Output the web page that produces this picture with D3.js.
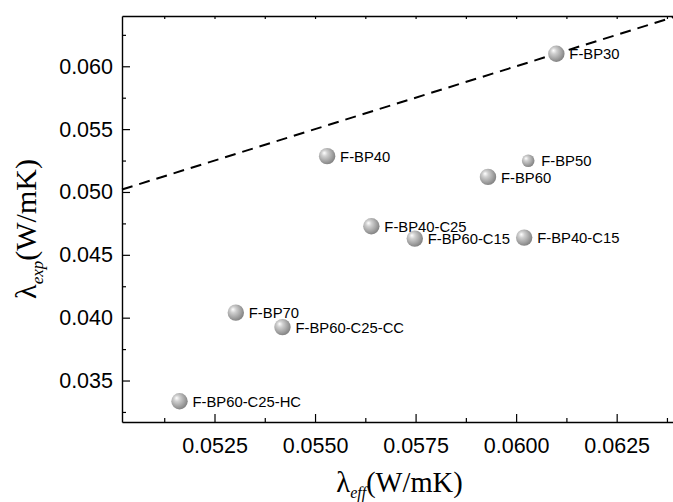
<!DOCTYPE html>
<html>
<head>
<meta charset="utf-8">
<script src="https://cdn.jsdelivr.net/npm/d3@7"></script>
<style>
  body { margin: 0; background: #fff; }
  svg { display: block; }
  .tick text { font-family: "Liberation Sans", Arial, sans-serif; fill: #000; }
  .pt-label { font-family: "Liberation Sans", Arial, sans-serif; font-size: 14.8px; fill: #000; }
  .title { font-family: "Liberation Serif", "Times New Roman", serif; fill: #000; }
</style>
</head>
<body>
<div id="chart"></div>
<script>
const samples = ["F-BP30", "F-BP40", "F-BP50", "F-BP60", "F-BP40-C25", "F-BP60-C15",
  "F-BP40-C15", "F-BP70", "F-BP60-C25-CC", "F-BP60-C25-HC"];
const lambdaEff = [0.0610, 0.0553, 0.0603, 0.0593, 0.0564, 0.05748,
  0.0602, 0.05303, 0.05419, 0.05163];
const lambdaExp = [0.0610, 0.05285, 0.05248, 0.0512, 0.04727, 0.04629,
  0.04637, 0.0404, 0.03925, 0.03335];

const xMajor = [0.0525, 0.0550, 0.0575, 0.0600, 0.0625];
const xMinor = [0.05125, 0.05375, 0.05625, 0.05875, 0.06125, 0.06375];
const yMajor = [0.035, 0.040, 0.045, 0.050, 0.055, 0.060];
const yMinor = [0.0325, 0.0375, 0.0425, 0.0475, 0.0525, 0.0575, 0.0625];
const parity = [0.0502, 0.064];

// the one marker drawn smaller in the original
const smallMarkers = ["F-BP50"];

const width = 673, height = 502;
const margin = { top: 16, right: -4, bottom: 80, left: 122 };

const x = d3.scaleLinear()
  .domain([0.0502, 0.064])
  .range([margin.left, width - margin.right]);
const y = d3.scaleLinear()
  .domain([0.0317, 0.064])
  .range([height - margin.bottom, margin.top]);

const svg = d3.select("#chart").append("svg")
  .attr("width", width)
  .attr("height", height);

const defs = svg.append("defs");
const grad = defs.append("radialGradient")
  .attr("id", "ball")
  .attr("cx", "40%").attr("cy", "40%").attr("r", "60%")
  .attr("fx", "32%").attr("fy", "30%");
grad.selectAll("stop")
  .data([[0, "#ffffff"], [0.3, "#d0d0d0"], [0.7, "#a6a6a6"], [1, "#858585"]])
  .join("stop")
  .attr("offset", d => d[0])
  .attr("stop-color", d => d[1]);

// axes
const bottom = height - margin.bottom;
svg.append("g")
  .attr("transform", `translate(0,${bottom})`)
  .call(d3.axisBottom(x).tickValues(xMajor).tickFormat(d3.format(".4f"))
    .tickSizeInner(-8).tickSizeOuter(0).tickPadding(16))
  .call(g => g.selectAll("text").attr("font-size", 21.5));
svg.append("g")
  .attr("transform", `translate(0,${bottom})`)
  .call(d3.axisBottom(x).tickValues(xMinor).tickFormat("")
    .tickSizeInner(-4).tickSizeOuter(0))
  .call(g => g.select(".domain").remove());

svg.append("g")
  .attr("transform", `translate(${margin.left},0)`)
  .call(d3.axisLeft(y).tickValues(yMajor).tickFormat(d3.format(".3f"))
    .tickSizeInner(-8).tickSizeOuter(0).tickPadding(9))
  .call(g => g.selectAll("text").attr("font-size", 21.5));
svg.append("g")
  .attr("transform", `translate(${margin.left},0)`)
  .call(d3.axisLeft(y).tickValues(yMinor).tickFormat("")
    .tickSizeInner(-4).tickSizeOuter(0))
  .call(g => g.select(".domain").remove());

svg.append("g")
  .attr("transform", `translate(0,${margin.top})`)
  .call(d3.axisTop(x).tickValues(xMajor.concat(xMinor)).tickFormat("")
    .tickSizeInner(-3).tickSizeOuter(0));

svg.selectAll(".domain").attr("stroke-width", 1.4);
svg.selectAll(".tick line").attr("stroke-width", 1.2);

// parity line
svg.append("line")
  .attr("x1", x(parity[0])).attr("y1", y(parity[0]))
  .attr("x2", x(parity[1])).attr("y2", y(parity[1]))
  .attr("stroke", "#000")
  .attr("stroke-width", 2)
  .attr("stroke-dasharray", "11,7");

// points
const pts = svg.append("g").selectAll("g")
  .data(samples)
  .join("g")
  .attr("transform", (d, i) => `translate(${x(lambdaEff[i])},${y(lambdaExp[i])})`);
pts.append("circle")
  .attr("r", d => smallMarkers.includes(d) ? 6.3 : 8.2)
  .attr("fill", "url(#ball)");
pts.append("text")
  .attr("class", "pt-label")
  .attr("x", 13)
  .attr("dy", "0.38em")
  .text(d => d);

// titles
const xt = svg.append("text")
  .attr("class", "title")
  .attr("text-anchor", "middle")
  .attr("x", (margin.left + width - margin.right) / 2)
  .attr("y", 492)
  .attr("font-size", 28.5);
xt.append("tspan").text("λ");
xt.append("tspan").attr("font-size", 16).attr("font-style", "italic").attr("dy", 6).text("eff");
xt.append("tspan").attr("dy", -6).text("(W/mK)");

const yt = svg.append("text")
  .attr("class", "title")
  .attr("text-anchor", "middle")
  .attr("transform", `translate(36,${(margin.top + bottom) / 2 + 10}) rotate(-90)`)
  .attr("font-size", 30);
yt.append("tspan").text("λ");
yt.append("tspan").attr("font-size", 17).attr("font-style", "italic").attr("dy", 7).text("exp");
yt.append("tspan").attr("dy", -7).text("(W/mK)");
</script>
</body>
</html>
